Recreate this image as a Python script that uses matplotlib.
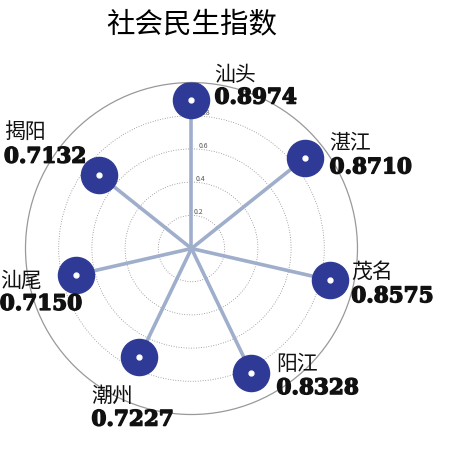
import numpy as np
import matplotlib.pyplot as plt
import matplotlib.patheffects as pe

plt.rcParams['font.family'] = ['Noto Sans CJK SC', 'DejaVu Sans']

cities = ['汕头', '湛江', '茂名', '阳江', '潮州', '汕尾', '揭阳']
values = [0.8974, 0.8710, 0.8575, 0.8328, 0.7227, 0.7150, 0.7132]
value_labels = ['0.8974', '0.8710', '0.8575', '0.8328', '0.7227', '0.7150', '0.7132']
r_ticks = [0.2, 0.4, 0.6, 0.8]

# label offsets from each marker, in pixels: (dx of left edge, dy of name centre, dy of value centre)
offsets = [(23, -26, -2), (25, -17, 9), (21, -9, 16), (25, -10, 15),
           (-48, 38, 63), (-76, 5, 29), (-95, -44, -18)]

theta = np.arange(len(cities)) * 2 * np.pi / len(cities)

fig = plt.figure(figsize=(4.65, 4.56), dpi=100)
ax = fig.add_axes([0.0548, 0.0888, 0.714, 0.728], projection='polar')
ax.set_theta_zero_location('N')
ax.set_theta_direction(-1)
ax.set_ylim(0, 1)

ax.xaxis.grid(False)
ax.set_xticks([])
ax.set_rgrids(r_ticks, labels=[str(t) for t in r_ticks], angle=4, fontsize=5, color='#555555')
ax.yaxis.grid(True, color='#888888', linestyle=(0, (1, 2)), linewidth=0.6)
ax.spines['polar'].set_color('#999999')
ax.spines['polar'].set_linewidth(0.9)

for t, v in zip(theta, values):
    ax.plot([t, t], [0, v], color='#9FAECB', linewidth=2.6, zorder=2, solid_capstyle='butt')
ax.plot(theta, values, 'o', markersize=26, color='#2E3A95', zorder=3)
ax.plot(theta, values, 'o', markersize=3.5, color='white', zorder=4)

px = 0.72
thick = [pe.withStroke(linewidth=1.0, foreground='#111111')]
for t, v, name, lab, (dx, dn, dv) in zip(theta, values, cities, value_labels, offsets):
    ax.annotate(name, xy=(t, v), xytext=(dx * px, -dn * px), textcoords='offset points',
                ha='left', va='center', fontsize=15, color='#111111', zorder=5,
                annotation_clip=False)
    ax.annotate(lab, xy=(t, v), xytext=(dx * px, -dv * px), textcoords='offset points',
                ha='left', va='center', fontsize=15.5, fontweight='bold',
                family='DejaVu Serif', color='#111111', zorder=5, annotation_clip=False,
                path_effects=thick)

fig.text(192 / 465, 1 - 24 / 456, '社会民生指数', ha='center', va='center', fontsize=20.5)

fig.savefig('out.png', dpi=100)
